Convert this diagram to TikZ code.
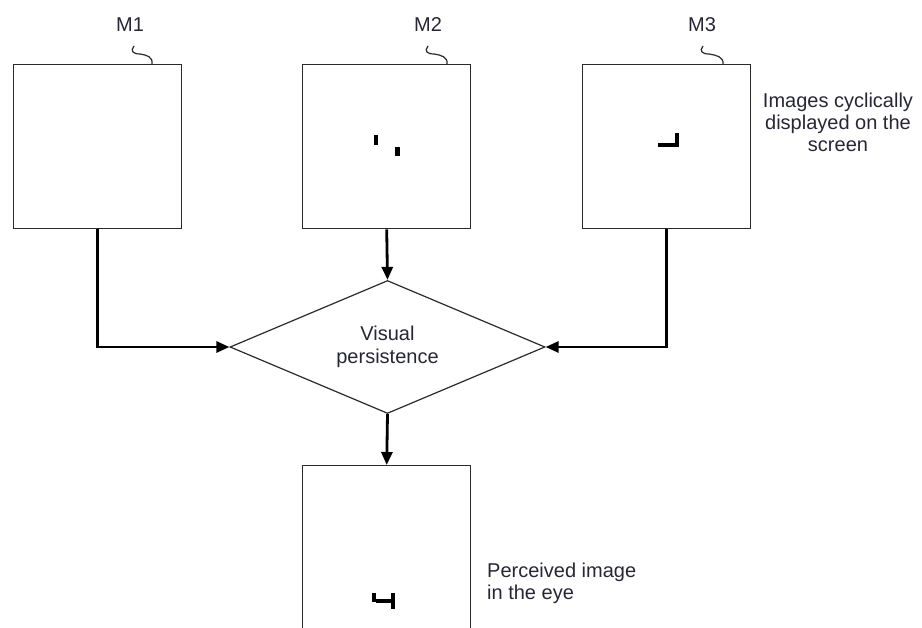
\documentclass[tikz,border=0pt]{standalone}
\usepackage{fontspec}
\setmainfont{Liberation Sans}
\usetikzlibrary{shapes.geometric,arrows.meta}
\definecolor{inkline}{HTML}{2A2A2A}
\definecolor{inktext}{HTML}{262636}
\tikzset{
  framebox/.style={draw=inkline, line width=1.4pt, minimum width=168pt, minimum height=164pt, inner sep=0pt, anchor=north west},
  decision/.style={draw=inkline, line width=1.2pt, shape=diamond, aspect=2.37, minimum width=315pt, minimum height=133pt, inner sep=0pt, align=center, text=inktext, font=\fontsize{20}{23}\selectfont},
  flow/.style={line width=2.8pt, -{Triangle[length=13pt,width=11pt]}},
  lbl/.style={text=inktext, font=\fontsize{20}{22}\selectfont, inner sep=0pt},
  squig/.style={draw=inkline, line width=1.2pt},
  px/.style={fill=black}
}
\begin{document}
\begin{tikzpicture}[x=1pt,y=-1pt]
\useasboundingbox (0,0) rectangle (922,628);
\clip (0,0) rectangle (922,628);

% the three displayed frames
\node[framebox] (m1) at (13,64) {};
\node[framebox] (m2) at (302,64) {};
\node[framebox] (m3) at (582,64) {};

% frame labels with their leader squiggles
\node[lbl] (l1) at (130,25) {M1};
\node[lbl] (l2) at (428,25) {M2};
\node[lbl] (l3) at (702,25) {M3};
\coordinate (s1) at (134,46);
\coordinate (s2) at (428,46);
\coordinate (s3) at (703,46);
\draw[squig] (s1) .. controls (130,51) and (133,54) .. (140,54) .. controls (147,55) and (153,57) .. (152,64);
\draw[squig] (s2) .. controls (424,51) and (427,54) .. (434,54) .. controls (441,55) and (448,57) .. (447,64);
\draw[squig] (s3) .. controls (699,51) and (702,54) .. (709,54) .. controls (716,55) and (724,57) .. (723,64);

% pixels shown in frame M2
\fill[px] (374,135) rectangle (378,145);
\fill[px] (395,147) rectangle (400,156);
% pixels shown in frame M3
\fill[px] (658,143) rectangle (675,147);
\fill[px] (675,133) rectangle (679,147);

\node[lbl, align=center] (cap) at (838,122) {Images cyclically\\displayed on the\\screen};

% persistence stage
\node[decision] (vp) at (387.5,347) {Visual\\persistence};

% perceived frame (runs past the lower edge)
\node[framebox, minimum height=220pt] (out) at (302,465) {};
\fill[px] (372,593) rectangle (376,602);
\fill[px] (376,599) rectangle (391,603);
\fill[px] (391,593) rectangle (395,609);
\node[lbl, align=left, anchor=west] (pcap) at (487,583) {Perceived image\\in the eye};

% connectors
\draw[flow] (m1.south) |- (vp.west);
\draw[flow] (m2.south) -- (vp.north);
\draw[flow] (m3.south) |- (vp.east);
\draw[flow] (vp.south) -- (out.north);
\end{tikzpicture}
\end{document}
